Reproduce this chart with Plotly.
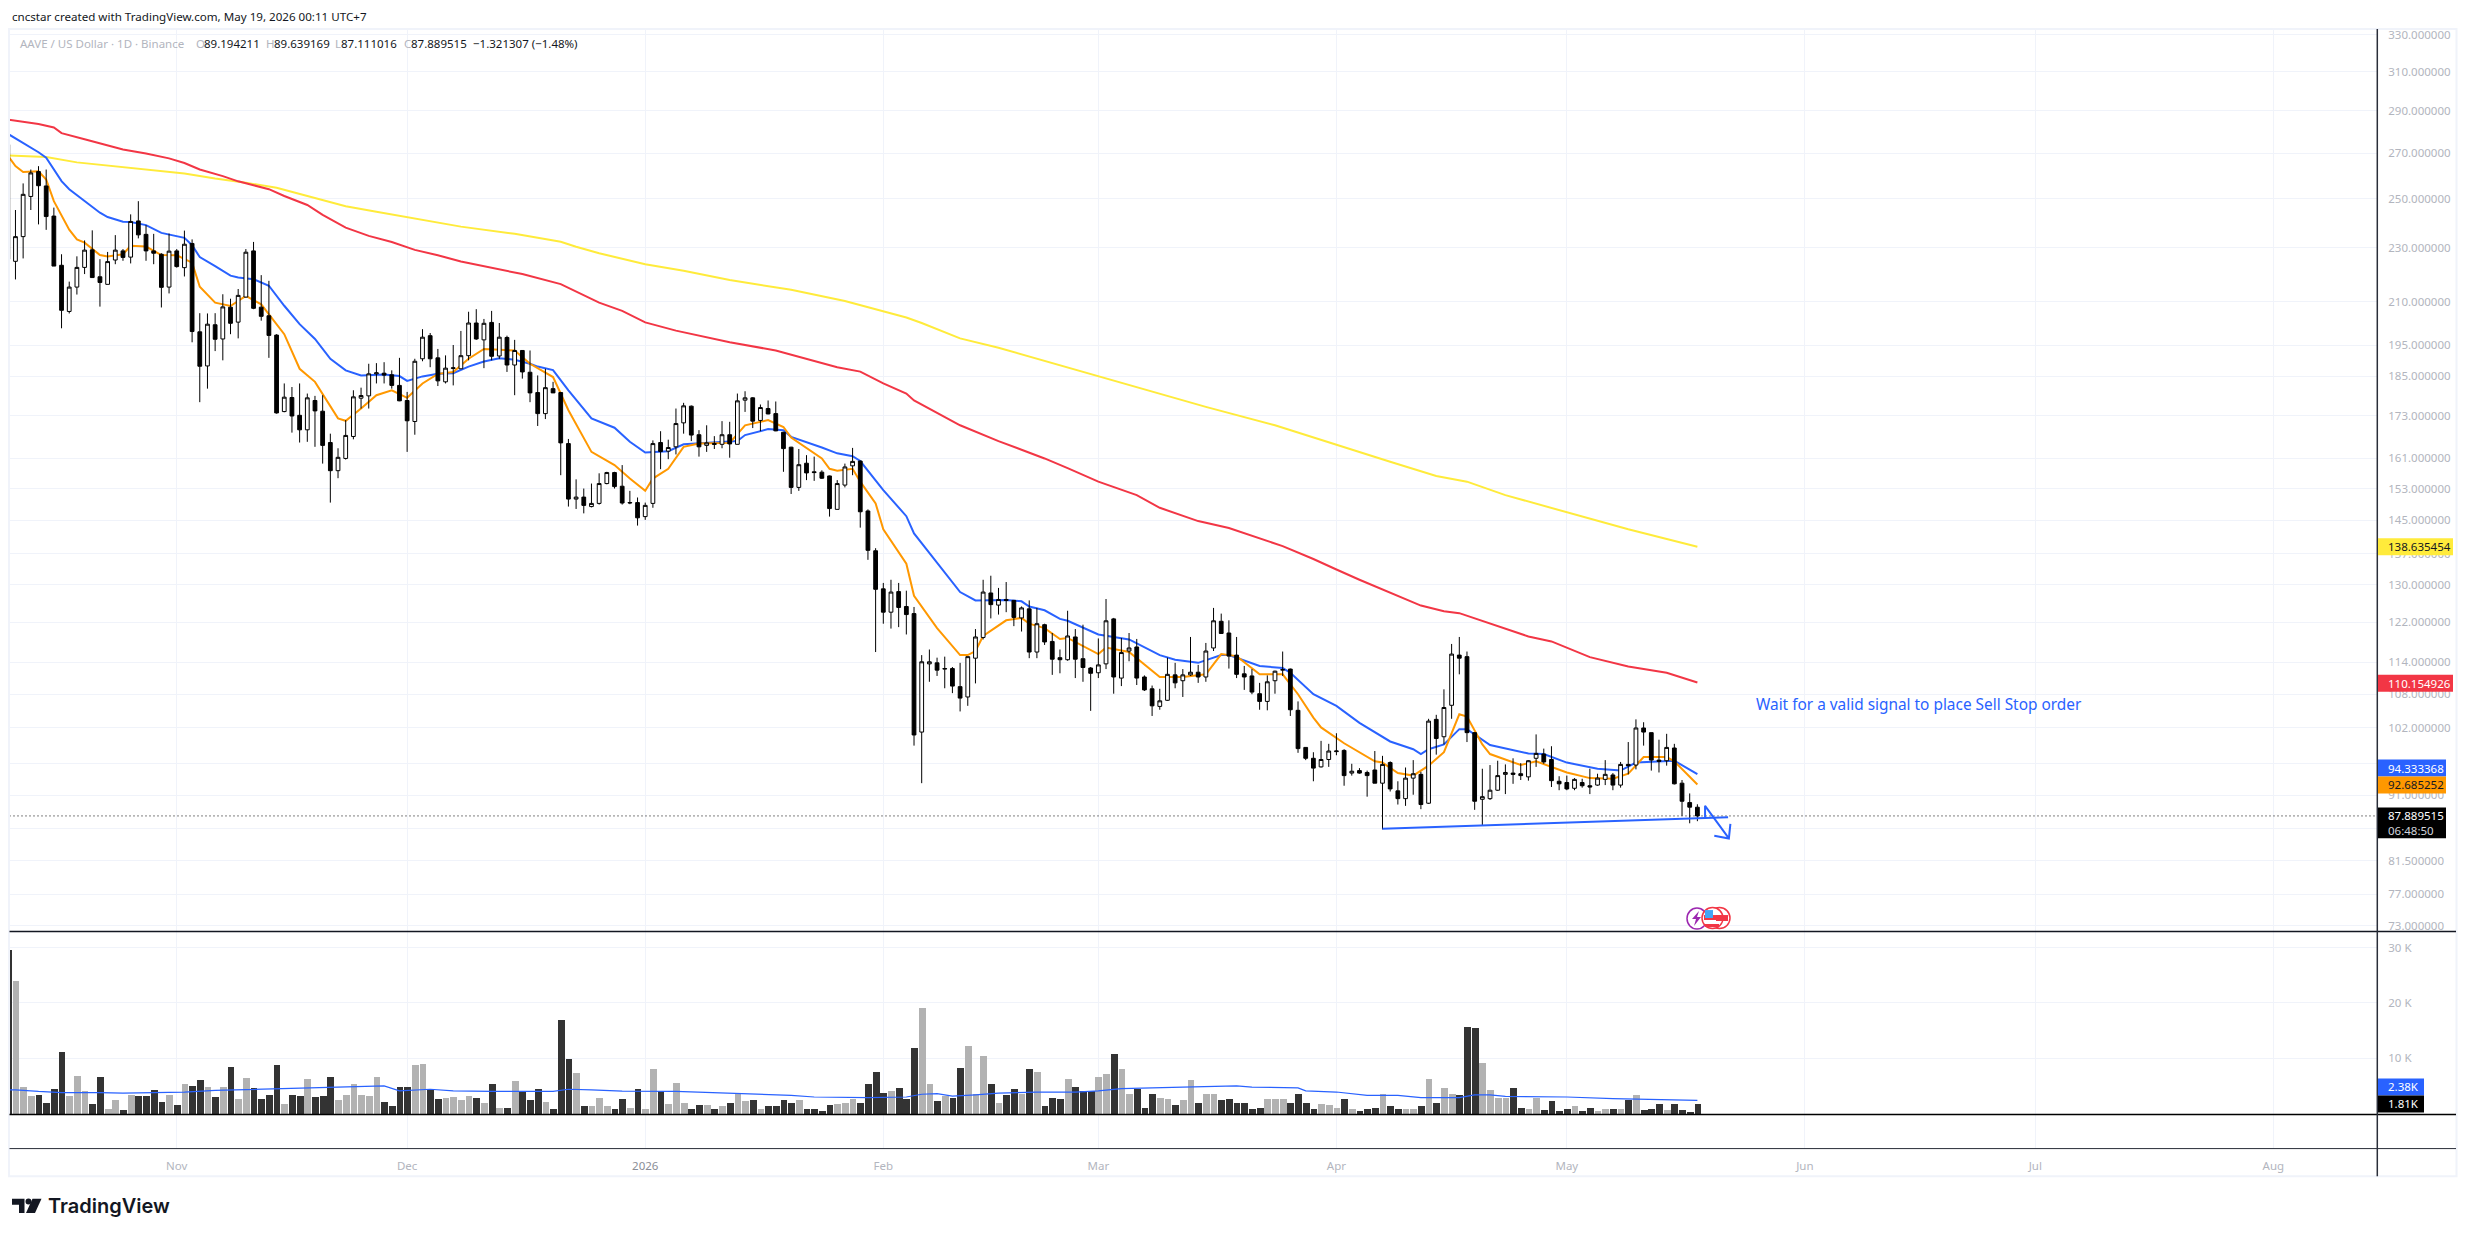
import math
from datetime import datetime, timedelta
import plotly.graph_objects as go

START = datetime(2025, 10, 10)  # first (clipped) daily candle

opens = [273.9,
224.8,234.4,250.9,261.7,255.4,242.7,223.3,206.5,215.2,222.5,
229.2,219,216.2,225.3,228.8,226.4,240.7,235.3,228.8,227.5,
215.2,228.8,222.4,231.7,199.5,188.3,201.9,197.1,208,202.8,
211.6,228.8,208,205,198.4,174.3,178.5,173.2,169,177.6,
174.4,165.4,157.7,161,167.1,178.3,179,185.8,186,185.5,
182.2,177.6,171.4,190.6,198.2,190.9,183.3,187.5,187.4,191.6,
202.5,196.8,202.7,191.5,197.6,188.6,193.3,186.3,180,173.7,
181.2,180,165.1,150.3,150.8,148.4,149.2,154.3,157.2,153.6,
149.3,149.4,145.9,149.2,165.4,163,164.2,171,175.9,167.6,
164.6,165.1,164.9,167.6,164.9,177.7,178.4,171.7,175.2,173.7,
168.3,164.1,153.3,159.7,157.4,157.3,156.3,147.7,153.9,159,
160.3,147.3,137.7,129.1,124.1,128.5,125.3,123.8,101.3,113.7,
113.9,112.7,112.8,109.4,107.5,114.8,118.9,128.2,125.6,126.8,
126.6,122.9,124.8,116,121.5,118.1,114.9,114.5,119,114.7,
112.9,112,113.7,122.7,111,116.2,117,111.2,109,105.8,
106.9,111.6,110.5,111.6,112.1,111.2,116.8,122.2,119.8,115.4,
111.8,111.4,108.1,106.7,110.5,112.5,112.7,105.1,98.7,96.9,
95.5,96.7,98,98.2,94.5,94.9,94.6,95,92.9,96.2,
91.7,90.5,93.7,94.3,89.8,103.5,100.5,106,115.4,115.1,
101.2,90.4,90.5,91.8,94.3,94.5,94.4,93.9,96.9,97.6,
96.7,93.2,93,92.1,93,92.5,92.6,93.5,94.2,92.6,
95.9,95.8,102,101.2,96.6,96.5,98.6,92.9,89.9,89.194211]

highs = [273.9,
245.2,256.5,262.6,264.1,262.6,246.2,227.5,217.2,226.7,232.9,
236.9,225.6,228.4,235,229.5,243.4,248.9,239,235.5,227.9,
235.6,229.5,236.8,233.3,205.9,205.8,205.9,212.6,211,214.5,
229.5,232.3,219.6,217.5,198.7,182.8,181.7,182.8,179.7,179,
179.2,167.9,163.8,171.8,180.7,181.5,189,189.2,189.5,186.9,
190.9,180.2,190.6,200.4,199.1,193.8,191.7,195.1,199.8,206.4,
207.3,203.9,206.7,202.5,198.2,196.8,193.3,193.3,185.3,187.4,
183.3,180.2,166.4,155.4,153,154.3,157,157.4,157.4,159.2,
152.4,150.7,149.4,166,168.6,166.2,175.2,176.9,176.1,168.9,
170.3,167.2,171.5,171.3,179.7,180.4,178.6,176.4,177.6,177.3,
168.4,164.2,163.6,161.9,161.5,157.8,156.4,155.2,159.6,163.9,
160.4,147.7,138.3,130.4,131.1,130.4,128.7,125.2,115.4,116.5,
114.9,115.1,113.1,113.9,115.1,120.6,131.1,132,129.3,130.6,
126.7,125.3,126.6,125,121.7,119.8,116.5,124.4,120.6,121.5,
113.1,118.7,126.9,122.9,118.8,119.8,118.6,111.5,109.6,109,
114.9,113.9,112.7,119,113.5,117.8,125,123.8,122.4,119,
113.3,112.7,110.1,111.5,112.4,116.1,112.8,106.7,98.7,97.9,
99.8,99.3,101.1,98.4,96,95.3,94.9,98.1,97.3,96.4,
93.2,95.4,96.6,94.7,103.6,104.3,108.9,117.6,119,116.1,
101.3,95.2,95.8,96.5,95.9,96.9,96.1,96.6,100.9,98.5,
98.9,94,94.1,93.7,93.6,95.2,94.4,96.6,94.5,96.3,
99.6,103.5,103,101.2,100,101,99.3,93.4,91.3,89.639169]

lows = [225.6,
218,225.9,245.2,239.3,237.1,223,200.7,205.8,212.5,220,
218.7,208.2,216.2,223.7,225,224,233.7,225,223.7,207.9,
212.9,222.4,219.1,196,177.1,181.2,193.1,190.1,198.7,197.3,
211.4,207.3,203.3,190.9,173.7,174.1,168.2,165.4,165.6,164.2,
159.6,149.4,155.7,160.7,166.3,175.2,175.2,182.8,182.8,181.2,
177.4,162.8,167.6,189.8,187.9,182,182.8,182.2,187.4,190.1,
196.8,187.6,190.1,190.6,186.4,179.2,184.3,177.1,170.1,172.1,
179.9,156.5,148.4,147.8,146.7,148.2,148.9,154.1,153,148.9,
149,143.7,145.1,148.1,158.1,160.8,162.1,167.9,165.8,161.5,
162.8,163.6,163.8,161.2,164.9,174.2,169.5,168.6,173.5,168.6,
157.4,151.6,152.4,155.2,155,155.5,145.9,147.7,153.3,156.5,
143.2,135.6,116,121.7,120.7,121,119.5,99,92.9,110.3,
111.4,109.1,108.2,104.9,105.9,110,118.5,122.8,123.6,124.1,
121.2,120.1,114.8,114.8,117.4,111.6,111.9,114.3,111,110.3,
105,111,112.7,108.1,109.5,114.2,109.7,108.6,104.1,105.2,
106.8,109.1,107.5,111.4,110.1,110.3,116.2,119.7,112.8,111,
108.8,108,105.2,105.1,108.1,111.4,104.1,97.8,96.6,93.2,
95.4,95.5,97.4,92.5,94.1,94.4,90.8,92.9,85.9,91.6,
89.6,89.4,91.1,88.9,89.7,97.5,99.2,103.6,111.7,99.6,
88.8,86.5,90.3,91.7,91.2,92.8,93.4,93.3,95.5,96,
92.3,91.8,91.8,91.8,92.2,91.2,92.5,92.6,91.8,92.2,
94.3,95.1,99,94.9,94.6,95.7,92.7,87.9,86.8,87.111016]

closes = [225.6,
234.4,251.8,261.1,255.5,242.5,223,206.9,215.2,222.5,229.1,
218.7,216.9,224.7,229.1,226.3,240.5,235.1,228.8,227.9,215.1,
228.7,222.8,231.4,199.6,188.2,202.1,197,208.1,202.4,212.2,
228.3,207.6,204.8,198.3,173.9,178.6,173,169,178.4,174.5,
164.6,157.7,161.3,167.4,178.7,179.1,185.8,186.1,185.4,182.2,
177.5,171.6,189.8,197.7,190.6,183.6,187.6,187.7,191.6,202.5,
197.1,202.4,191.4,197.7,188.6,193.3,186.4,179.9,173.7,181.5,
179.9,165.3,150.3,150.8,148.7,149.2,154.3,157.2,153.5,149.3,
149.4,145.6,148.7,165.1,162.9,164,170.8,176,167.5,164.2,
165.3,164.9,167.6,165,177.5,178.4,171.5,175.5,173.6,168.7,
163.7,153.3,159.3,157.1,157.2,155.7,147.9,154.3,158.7,160.2,
147.1,137.8,129,124.1,128.4,125.1,123.6,100.8,114.1,114.1,
112.5,112.8,109.5,107.3,115.1,119,128.4,125.7,126.8,126.6,
123,125,116,121.7,118,114.6,114.5,119.2,114.6,113,
111.9,113.5,122.3,111.2,115.9,116.8,111,108.8,105.9,106.8,
111.7,110.1,111.6,112.1,111.2,116.2,122.3,119.7,115.2,111.7,
111.2,108.4,106.7,110.3,112.3,112.6,105.2,98.5,96.9,95.3,
96.7,98.1,98.1,94.1,94.8,94.5,94.1,92.9,95.9,92,
90.5,93.7,94.4,89.6,103.2,100.2,105.6,115.6,114.8,101.2,
90.1,90.8,91.8,94.1,94.6,94.3,94.1,96.5,97.7,96.3,
93.3,92.8,92,93.5,92.5,92.3,93.7,94.3,92.6,95.9,
95.7,102,101.3,96.6,96.4,98.7,92.8,90.1,89.2,87.889515]

volumes_k = [29.6,
23.9,4.8,3.2,3.4,2.0,4.4,11.1,3.2,6.8,4.1,
1.7,6.6,0.8,2.5,0.7,3.4,3.2,3.2,4.3,2.1,
3.4,1.6,5.3,5.0,6.1,4.8,3.0,4.8,8.4,2.6,
6.4,4.6,2.6,3.4,8.8,1.7,3.4,3.2,6.2,3.0,
3.2,6.6,2.5,3.4,5.3,3.4,3.2,6.6,2.1,1.4,
4.8,4.8,8.8,8.9,4.3,2.6,2.8,3.0,2.5,3.2,
2.8,1.9,5.3,1.0,1.0,5.9,3.9,2.5,4.4,2.1,
0.8,17.0,9.8,7.3,1.4,1.4,2.8,1.4,0.8,2.6,
1.1,4.4,0.8,8.0,4.0,1.7,5.6,2.0,0.9,1.5,
1.5,0.8,1.3,2.0,3.6,2.2,2.4,0.8,1.3,1.3,
2.4,2.0,2.4,0.8,0.9,0.4,1.5,1.7,2.0,2.6,
2.0,5.3,7.6,3.8,4.0,4.7,2.7,11.9,19.1,5.3,
2.2,3.1,2.9,8.3,12.3,3.5,10.5,5.4,2.0,3.3,
4.4,3.5,8.1,7.6,1.3,2.9,2.6,6.3,4.9,4.0,
4.1,6.7,7.1,10.8,8.0,3.6,4.4,1.1,3.5,2.9,
2.6,1.5,2.4,6.0,2.0,3.5,3.6,2.4,2.7,2.0,
2.0,0.8,1.1,2.6,2.6,2.6,2.0,3.5,2.0,0.9,
1.7,1.5,1.1,2.7,0.8,0.4,0.8,1.1,3.5,1.3,
0.8,0.9,0.8,1.3,6.2,2.0,4.7,3.6,3.3,15.7,
15.5,9.2,4.2,2.9,2.9,4.7,1.1,0.8,2.9,0.6,
2.2,0.4,0.8,1.3,0.4,1.1,0.4,0.8,0.8,0.9,
2.4,3.3,0.6,0.8,1.7,0.6,1.7,0.6,0.2,1.81]

# moving averages: candle number (0 = 11 Oct 2025) and value read there
yellow_idx = [-1,4,8,13,18,22,26,30,34,39,43,47,52,58,65,71,73,76,82,87,93,101,108,113,116,118,123,128,141,146,155,164,172,179,185,189,194,202,210,219]
yellow_val = [268.9,268.2,265.8,264,262,260.8,258.6,256.8,254.6,250.3,246.8,244.5,241.6,238.4,235.5,232.4,230.4,227.9,223.7,221.2,217.8,214.2,210.2,206.7,204.4,202.5,197.3,194.2,185.1,181.7,175.7,170.3,164.7,160.1,156.3,154.8,151.3,146.9,142.8,138.635454]

red_idx = [-1,3,5,6,9,12,14,17,20,22,24,27,29,31,33,35,38,40,43,46,49,52,55,58,62,66,71,74,76,79,82,86,93,99,107,110,113,116,117,123,128,131,134,137,141,146,149,154,158,165,169,172,175,183,186,188,192,197,200,205,210,215,219]
red_val = [285.8,283.6,282,279.3,276.4,273.7,271.7,269.8,267.6,265.5,262.6,259.7,257.4,255.7,254,251.1,247.3,243.2,238,234.7,232.3,229.2,227.1,224.7,222.4,220,216.3,212.4,209.6,206.7,202.7,199.9,196,193.3,187.9,186.5,182.8,179.7,177.6,170.3,165.8,163.4,161,158.4,154.8,151.3,148.1,144.8,143.1,138.8,135.8,133.4,131.1,125.5,124.3,123.9,121.8,119.1,118.1,115,113.2,112,110.154926]

blue_idx = [-1,1,2,3,4,5,6,7,9,11,12,14,15,17,19,21,22,23,24,26,28,29,31,33,35,37,39,41,43,45,48,50,51,53,55,57,59,61,63,65,67,68,70,72,75,78,80,82,85,87,91,94,95,98,100,101,105,107,109,110,113,116,117,120,123,125,129,131,132,134,136,137,141,143,145,149,151,154,157,158,162,165,166,169,172,175,179,182,183,184,186,188,189,192,197,199,202,206,209,211,216,219]
blue_val = [279,274.7,272.4,270.4,267.9,262.6,257.5,254,248.9,244.1,242.3,240.4,240.3,239,235.9,234.5,233.9,231,226.4,223,219.4,218.7,218.1,215.7,208.5,202.1,197.1,190.6,186.9,185.3,185.6,185.1,183.6,185,185.8,186,188.1,189.7,190.8,190.3,189,188.1,187,180.7,172.3,169.6,165.6,162.6,163,164.9,165.3,165.8,167.5,169.2,168.9,167,164,162.4,161.6,160.3,152.6,146,141.8,134.9,128.4,126.6,126.7,126.4,125.3,124.5,122.7,122.3,119.5,119,118.5,115.4,114.5,113.9,115.4,115.4,113.3,112.9,112,108,105.9,102.9,99.7,98.4,97.6,98.4,99.2,101.8,101.8,99.1,97.7,97.6,96.2,95.2,94.9,96.2,96.5,94.333368]

orange_idx = [-1,0,1,3,4,5,7,8,9,11,12,14,15,17,19,21,23,24,26,28,30,32,35,37,39,42,43,45,47,49,51,53,55,57,59,61,65,67,70,72,75,78,80,82,83,85,87,89,93,95,98,100,101,105,106,107,109,110,112,113,116,117,120,123,124,125,126,129,131,132,134,136,137,141,142,145,149,152,155,157,159,162,165,167,169,170,173,177,178,180,182,184,186,188,189,191,192,196,198,202,205,208,210,212,215,216,219]
orange_val = [268.9,264.1,261.5,261.8,258.2,248.9,237.2,233.3,232,227.2,226.6,227.5,230.8,230.5,227.2,227.1,224.3,215.3,209.6,208.4,212,209,198.7,187.4,183.3,172.3,171.6,175.2,179.2,180.7,178.4,182.8,185.8,186.4,190.6,193.8,193.3,189,184.8,174.7,162.8,159.2,155.6,152.4,155.6,158.2,164.2,165.1,165.3,170.3,171.8,169.8,166.8,161,158.2,157.7,158.2,154.8,149.2,142.8,134.7,127.6,120.8,115.4,115.4,116.2,119.2,122.4,122.9,121.7,120.8,118.6,118.8,115.6,116.9,116,111.2,111.2,111.7,115.6,115.2,111.7,111.7,108,103.8,102.1,99.4,96.4,96.2,94.5,94.1,95.7,97.9,104.4,104,99.2,97.6,95.8,96.4,94.6,93.7,93.6,94.4,97.1,97.1,96.4,92.685252]

vol_ma_idx = [-1,0,3,6,11,14,18,22,26,29,34,38,43,48,50,54,57,62,70,72,75,79,86,91,97,101,104,111,116,118,120,122,125,128,133,138,141,144,152,159,161,167,168,172,176,180,183,188,190,192,194,202,208,213,219]
vol_ma_k = [4.3,4.3,4.0,3.8,3.8,3.7,3.8,3.9,4.2,4.3,4.5,4.7,4.9,5.0,4.1,4.4,4.1,4.0,4.0,4.4,4.3,4.05,4.0,3.75,3.5,3.3,3.0,2.9,3.0,3.5,3.6,3.15,3.4,3.7,3.9,3.9,4.1,4.5,4.8,5.0,4.8,4.65,4.1,3.9,3.3,3.3,2.9,2.9,3.4,3.4,3.1,3.0,2.7,2.6,2.38]

# drawing: support line and sell arrow (candle number as fractional day, price)
support_days = [178, 223]
support_price = [86.0, 87.7]
arrow_days = [220, 220, 223.1]
arrow_price = [87.6, 89.4, 84.6]
arrow_head_days = [221.2, 223.1, 223.3]
arrow_head_price = [85.0, 84.6, 86.7]

price_ticks = [330,310,290,270,250,230,210,195,185,173,161,153,145,137,130,122,114,108,102,96,91,86,81.5,77,73]
volume_ticks = [10000, 20000, 30000]
volume_tick_labels = ["10 K", "20 K", "30 K"]
month_ticks = ["2025-11-01","2025-12-01","2026-01-01","2026-02-01","2026-03-01","2026-04-01","2026-05-01","2026-06-01","2026-07-01","2026-08-01"]
month_labels = ["Nov","Dec","<span style='color:#8a8d96'>2026</span>","Feb","Mar","Apr","May","Jun","Jul","Aug"]
last_close = closes[-1]

# ------------------------------------------------------------------ layout helpers
W, H = 2467, 1238
FONT = "Noto Sans"
GRID = "#f0f3fa"
TICK = "#b2b5be"
def px(x): return x / W
def py(y): return 1 - y / H
def day(i): return START + timedelta(days=1 + i)
dates = [START + timedelta(days=k) for k in range(len(closes))]

x_left = 9.5; x_right = 2377.0
px_per_day = 7.68
feb1 = datetime(2026, 2, 1); feb1_px = 883.3
xrange = [feb1 - timedelta(days=(feb1_px - x_left) / px_per_day), feb1 + timedelta(days=(x_right - feb1_px) / px_per_day)]
price_low, price_high = 72.33, 333.2
yr = [math.log10(price_low), math.log10(price_high)]

fig = go.Figure()
for idx, val, col, wd in [(yellow_idx, yellow_val, "#ffeb3b", 2), (red_idx, red_val, "#f23645", 2),
                          (blue_idx, blue_val, "#2962ff", 2), (orange_idx, orange_val, "#ff9800", 2)]:
    fig.add_trace(go.Scatter(x=[day(i) for i in idx], y=val, mode="lines", line=dict(color=col, width=wd),
                             xaxis="x", yaxis="y", hoverinfo="skip", showlegend=False))

fig.add_trace(go.Candlestick(x=dates, open=opens, high=highs, low=lows, close=closes, xaxis="x", yaxis="y3",
                             increasing=dict(line=dict(color="#000000", width=1), fillcolor="#ffffff"),
                             decreasing=dict(line=dict(color="#000000", width=1), fillcolor="#000000"),
                             showlegend=False))
fig.add_trace(go.Scatter(x=xrange, y=[last_close, last_close], mode="lines", xaxis="x", yaxis="y3",
                         line=dict(color="#000000", width=1, dash="1px,3px"), hoverinfo="skip", showlegend=False))
for xs, ys in [(support_days, support_price), (arrow_days, arrow_price), (arrow_head_days, arrow_head_price)]:
    fig.add_trace(go.Scatter(x=[day(i) for i in xs], y=ys, mode="lines", xaxis="x", yaxis="y3",
                             line=dict(color="#2962ff", width=2), hoverinfo="skip", showlegend=False))

vol_colors = ["#b2b2b2" if c >= o else "#333333" for o, c in zip(opens, closes)]
fig.add_trace(go.Bar(x=dates, y=[v * 1000 for v in volumes_k], marker=dict(color=vol_colors, line=dict(width=0)),
                     width=86400000 * 0.88, xaxis="x2", yaxis="y2", showlegend=False))
fig.add_trace(go.Scatter(x=[day(i) for i in vol_ma_idx], y=[v * 1000 for v in vol_ma_k], mode="lines",
                         line=dict(color="#2962ff", width=1.2), xaxis="x2", yaxis="y2", hoverinfo="skip", showlegend=False))

shapes = []
def hline(y, x0, x1, color, width):
    shapes.append(dict(type="line", xref="paper", yref="paper", x0=px(x0), x1=px(x1), y0=py(y), y1=py(y), line=dict(color=color, width=width), layer="above"))
def vline(x, y0, y1, color, width):
    shapes.append(dict(type="line", xref="paper", yref="paper", x0=px(x), x1=px(x), y0=py(y0), y1=py(y1), line=dict(color=color, width=width), layer="above"))
def rect(x0, y0, x1, y1, fill, line=None, kind="rect", lw=1):
    shapes.append(dict(type=kind, xref="paper", yref="paper", x0=px(x0), x1=px(x1), y0=py(y0), y1=py(y1), fillcolor=fill,
                       line=dict(color=line or fill, width=lw if line else 0), layer="above"))
def poly(points, fill):
    path = "M " + " L ".join(f"{px(a)} {py(b)}" for a, b in points) + " Z"
    shapes.append(dict(type="path", xref="paper", yref="paper", path=path, fillcolor=fill, line=dict(width=0), layer="above"))

# outer frame + separators
rect(9, 27, 2456.5, 1178, "rgba(0,0,0,0)", GRID, lw=2)
hline(932.5, 9.5, 2456, "#131722", 1.5)
hline(1116.2, 9.5, 2456, "#000000", 1.5)
hline(1150.3, 9.5, 2456, "#2a2e39", 1)
vline(2377.3, 27, 1178, "#2a2e39", 1.5)

# price labels
anns = []
def text(x, y, s, color="#131722", size=11.5, anchor="left", **kw):
    anns.append(dict(xref="paper", yref="paper", x=px(x), y=py(y), text=s, showarrow=False, xanchor=anchor, yanchor="middle",
                     font=dict(family=FONT, size=size, color=color, **kw)))

for x1, y0, y1, fill, s, col in [(2453, 538, 555, "#ffeb3b", "138.635454", "#131722"),
                                 (2453, 675, 692, "#f23645", "110.154926", "#ffffff"),
                                 (2446, 760, 777, "#2962ff", "94.333368", "#ffffff"),
                                 (2446, 777, 794, "#ff9800", "92.685252", "#131722"),
                                 (2424, 1080, 1097, "#2962ff", "2.38K", "#ffffff"),
                                 (2424, 1097, 1114, "#000000", "1.81K", "#ffffff")]:
    rect(2378, y0, x1, y1, fill)
    text(2386, (y0 + y1) / 2, s, col)
rect(2378, 808, 2446, 839, "#000000")
text(2386, 816.5, "87.889515", "#ffffff")
text(2386, 831, "06:48:50", "#d1d4dc")

# header and legend
text(10, 15, "cncstar created with TradingView.com, May 19, 2026 00:11 UTC+7", "#131722", 11.6)
text(18, 42, "AAVE / US Dollar · 1D · Binance", TICK, 11.5)
for x, s, col in [(194, "O", TICK), (202, "89.194211", "#131722"), (264, "H", TICK), (272, "89.639169", "#131722"),
                  (333, "L", TICK), (339, "87.111016", "#131722"), (402, "C", TICK), (409, "87.889515", "#131722"),
                  (471, "−1.321307 (−1.48%)", "#131722")]:
    text(x, 42, s, col, 11.5)
text(1754, 704.5, "Wait for a valid signal to place Sell Stop order", "#2962ff", 15.4)

# event icons
rect(1687, 909, 1707, 930, "#ffffff", "#9c27b0", "circle", 1.5)
poly([(1699, 912), (1692, 920), (1696, 920), (1694, 927), (1701, 918), (1697, 918)], "#9c27b0")
rect(1709, 908.5, 1730, 929.5, "#ffffff", "#f23645", "circle", 1.5)
rect(1702, 908.5, 1723, 929.5, "#ffffff", "#f23645", "circle", 1.5)
rect(1716, 916, 1728, 922, "#f23645")
rect(1704, 916, 1721, 921, "#f23645")
rect(1705, 925, 1719, 928, "#f23645")
rect(1705, 911, 1713, 919, "#42a5f5")

# TradingView logo
poly([(12, 1200.7), (24.5, 1200.7), (24.5, 1215), (19, 1215), (19, 1206.7), (12, 1206.7)], "#131722")
rect(25.5, 1200.3, 31.5, 1206.3, "#131722", None, "circle")
poly([(32.5, 1200.7), (41.5, 1200.7), (35, 1215), (26, 1215)], "#131722")
anns.append(dict(xref="paper", yref="paper", x=px(46), y=py(1208), text="TradingView", showarrow=False, xanchor="left", yanchor="middle",
                 font=dict(family="Inter", size=20, color="#131722", weight=600)))

dom_price = [py(932), py(27)]
dom_vol = [py(1150.3), py(933)]
vol_low = -6324; vol_high = 32829
tick_font = dict(family=FONT, size=11.5, color=TICK)
common_x = dict(type="date", range=xrange, domain=[px(x_left), px(x_right)], tickmode="array", tickvals=month_ticks,
                showgrid=True, gridcolor=GRID, gridwidth=1, zeroline=False, showline=False, rangeslider=dict(visible=False))

fig.update_layout(
    width=W, height=H, autosize=False, margin=dict(l=0, r=0, t=0, b=0, pad=0),
    paper_bgcolor="#ffffff", plot_bgcolor="#ffffff", showlegend=False, bargap=0, hovermode=False,
    font=dict(family=FONT),
    shapes=shapes, annotations=anns,
    xaxis=dict(anchor="y", showticklabels=False, ticks="", matches="x2", **common_x),
    xaxis2=dict(anchor="y2", ticktext=month_labels, showticklabels=True, ticks="outside", ticklen=7, tickcolor="rgba(0,0,0,0)",
                tickfont=tick_font, **common_x),
    yaxis=dict(domain=dom_price, type="log", range=yr, side="right", anchor="x", tickmode="array", tickvals=price_ticks,
               ticktext=[f"{t:.6f}" for t in price_ticks], tickfont=tick_font, showgrid=True, gridcolor=GRID, gridwidth=1,
               zeroline=False, showline=False, ticks="outside", ticklen=8, tickcolor="rgba(0,0,0,0)"),
    yaxis3=dict(overlaying="y", type="log", range=yr, side="right", anchor="x", showgrid=False, showticklabels=False,
                zeroline=False, showline=False, ticks=""),
    yaxis2=dict(domain=dom_vol, range=[vol_low, vol_high], side="right", anchor="x2", tickmode="array", tickvals=volume_ticks,
                ticktext=volume_tick_labels, tickfont=tick_font, showgrid=True, gridcolor=GRID, gridwidth=1, zeroline=False,
                showline=False, ticks="outside", ticklen=8, tickcolor="rgba(0,0,0,0)"),
)
fig.write_html("out.html", config=dict(displayModeBar=False),
               post_script="document.body.style.margin='0';document.documentElement.style.overflow='hidden';")
